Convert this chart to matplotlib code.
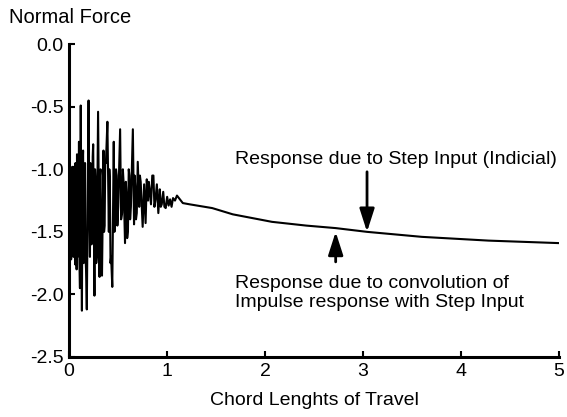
import numpy as np
import matplotlib
matplotlib.use("Agg")
import matplotlib.pyplot as plt

plt.rcParams['font.family'] = ['Liberation Sans', 'DejaVu Sans']

# chord lengths of travel vs normal force
chord = [0.000, 0.004, 0.008, 0.012, 0.016, 0.020, 0.024, 0.028, 0.032, 0.036,
         0.040, 0.044, 0.048, 0.052, 0.056, 0.060, 0.064, 0.068, 0.072, 0.076,
         0.080, 0.085, 0.090, 0.095, 0.100, 0.105, 0.110, 0.118, 0.124, 0.130,
         0.136, 0.142, 0.147, 0.152, 0.157, 0.162, 0.167, 0.172, 0.180, 0.198,
         0.205, 0.212, 0.217, 0.222, 0.228, 0.235, 0.240, 0.245, 0.258, 0.264,
         0.270, 0.276, 0.282, 0.295, 0.310, 0.315, 0.320, 0.328, 0.335, 0.350,
         0.356, 0.362, 0.368, 0.375, 0.390, 0.405, 0.410, 0.415, 0.422, 0.428,
         0.440, 0.455, 0.462, 0.470, 0.478, 0.485, 0.492, 0.500, 0.520, 0.530,
         0.540, 0.548, 0.555, 0.570, 0.578, 0.585, 0.592, 0.600, 0.608, 0.615,
         0.622, 0.630, 0.650, 0.662, 0.668, 0.675, 0.682, 0.690, 0.700, 0.715,
         0.722, 0.730, 0.750, 0.765, 0.780, 0.792, 0.805, 0.812, 0.820, 0.835,
         0.848, 0.860, 0.870, 0.880, 0.895, 0.910, 0.925, 0.935, 0.945, 0.960,
         0.972, 0.985, 1.000, 1.015, 1.030, 1.045, 1.060, 1.080, 1.100, 1.160,
         1.230, 1.460, 1.670, 2.070, 2.420, 2.720, 3.040, 3.600, 4.280, 5.000]
force = [-1.02, -1.60, -0.95, -1.45, -1.00, -1.72, -1.10, -1.62, -0.98, -1.65,
         -1.05, -1.70, -0.98, -1.55, -1.05, -1.76, -0.95, -1.60, -1.05, -1.80,
         -0.88, -1.70, -0.92, -1.55, -0.78, -1.75, -1.95, -0.49, -1.40, -2.13,
         -1.00, -0.85, -1.75, -1.05, -1.60, -0.95, -1.70, -1.80, -2.12, -0.45,
         -1.30, -1.70, -0.95, -1.00, -1.60, -1.55, -0.90, -0.80, -2.01, -1.00,
         -1.10, -1.75, -1.70, -0.54, -1.86, -1.05, -1.00, -1.70, -1.85, -0.85,
         -1.50, -1.45, -0.95, -0.95, -0.62, -1.50, -1.00, -1.10, -1.75, -1.70,
         -1.94, -0.78, -1.50, -1.40, -1.00, -1.05, -1.45, -1.30, -0.68, -1.40,
         -1.35, -1.00, -1.10, -1.59, -1.10, -1.20, -1.55, -1.49, -1.00, -1.05,
         -1.40, -1.30, -0.68, -1.44, -1.05, -1.15, -1.40, -1.35, -0.94, -1.30,
         -1.05, -1.10, -1.46, -1.12, -1.43, -1.08, -1.25, -1.10, -1.15, -1.28,
         -1.05, -1.05, -1.30, -1.25, -1.12, -1.35, -1.16, -1.30, -1.28, -1.18,
         -1.30, -1.31, -1.22, -1.29, -1.24, -1.30, -1.23, -1.25, -1.21, -1.27,
         -1.28, -1.31, -1.36, -1.42, -1.45, -1.47, -1.50, -1.54, -1.57, -1.59]

x_ticks = [0, 1, 2, 3, 4, 5]
y_ticks = [0.0, -0.5, -1.0, -1.5, -2.0, -2.5]

fig = plt.figure(figsize=(5.67, 4.17), dpi=100)
ax = fig.add_axes([0.122, 0.144, 0.864, 0.750])

ax.plot(chord, force, color='black', linewidth=1.5)

ax.set_xlim(0, 5)
ax.set_ylim(-2.5, 0.0)
ax.set_xticks(x_ticks)
ax.set_xticklabels([str(t) for t in x_ticks])
ax.set_yticks(y_ticks)
ax.set_yticklabels([f"{t:.1f}" for t in y_ticks])
ax.tick_params(direction='in', length=4, width=1.5, labelsize=14, pad=4)

for side in ['top', 'right']:
    ax.spines[side].set_visible(False)
for side in ['left', 'bottom']:
    ax.spines[side].set_linewidth(2.2)

ax.set_xlabel("Chord Lenghts of Travel", fontsize=14, labelpad=9)
fig.text(0.016, 0.958, "Normal Force", fontsize=14.5, va='center', ha='left')

# annotations
arrow = dict(arrowstyle='-|>,head_length=1.4,head_width=0.45', color='black',
             linewidth=2, shrinkA=0, shrinkB=0)
ax.annotate("", xy=(3.04, -1.50), xytext=(3.04, -1.02), arrowprops=arrow)
ax.text(3.33, -0.92, "Response due to Step Input (Indicial)", fontsize=14,
        ha='center', va='center')
ax.annotate("", xy=(2.72, -1.50), xytext=(2.72, -1.74), arrowprops=arrow)
ax.text(1.69, -1.99, "Response due to convolution of\nImpulse response with Step Input",
        fontsize=14, ha='left', va='center', linespacing=1.15)

fig.savefig("out.png", dpi=100)
